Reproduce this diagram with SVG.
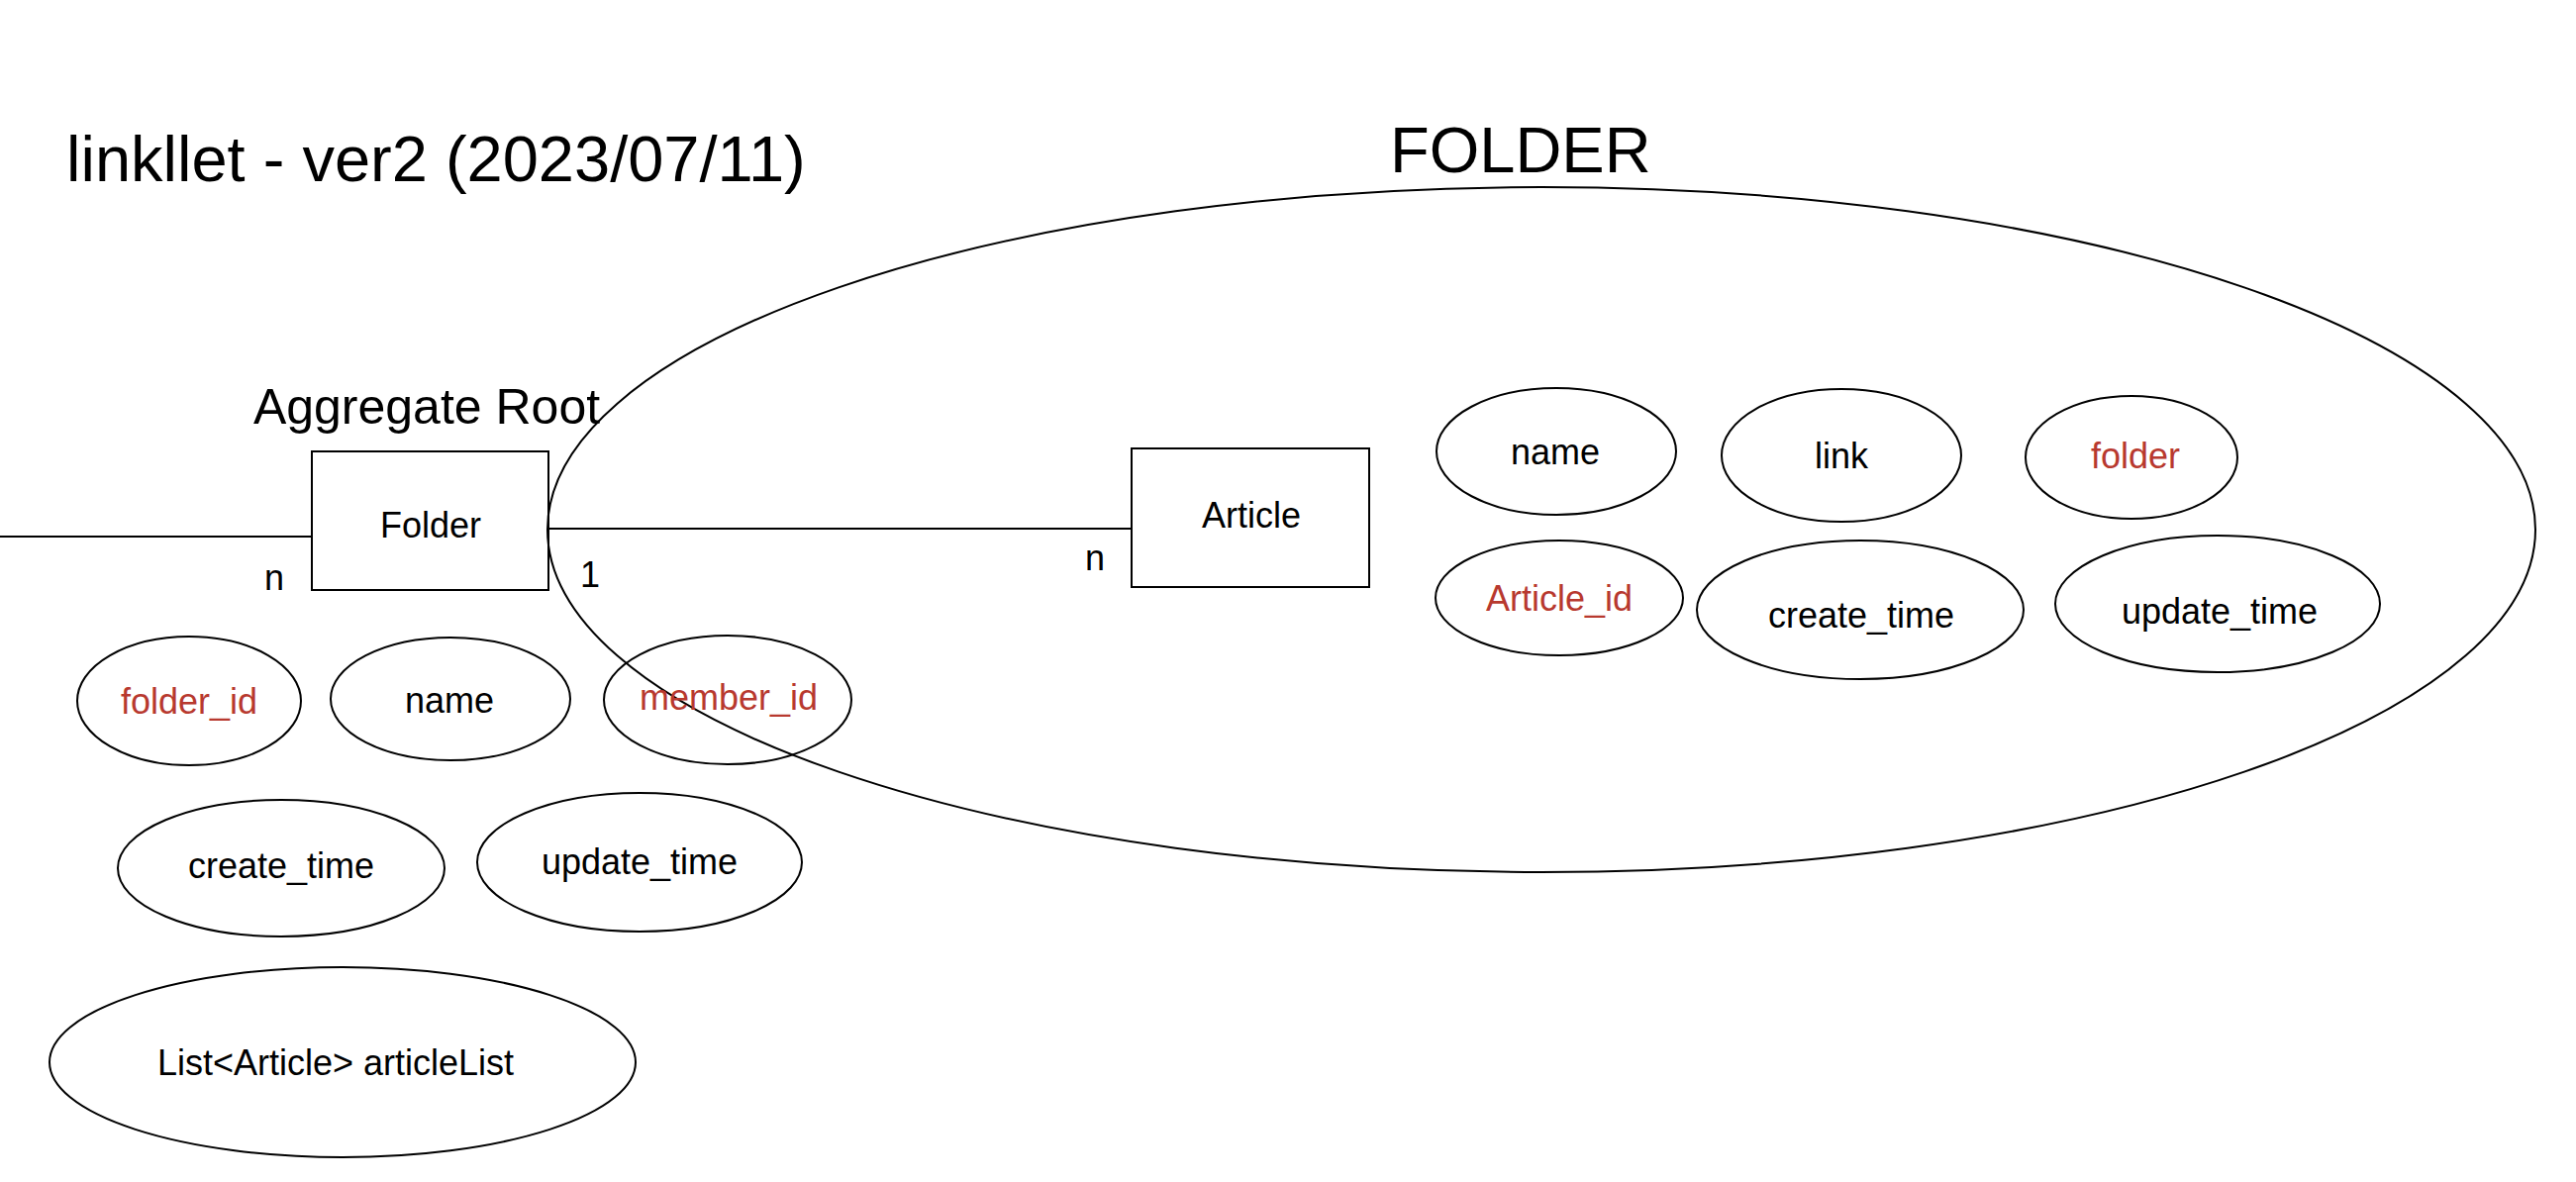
<svg xmlns="http://www.w3.org/2000/svg" width="2602" height="1194" viewBox="0 0 2602 1194">
<style>
  .shape { fill: none; stroke: #000; stroke-width: 2; }
  text { font-family: "Liberation Sans", Arial, Helvetica, sans-serif; fill: #000; }
  .lbl { font-size: 36px; text-anchor: middle; }
  .key { fill: #b8392f; }
  .big { font-size: 65px; }
  .line { stroke: #000; stroke-width: 2; fill: none; }
</style>
<rect width="2602" height="1194" fill="#fff"/>

<text id="title" class="big" x="67" y="183">linkllet - ver2 (2023/07/11)</text>
<text id="folder-label" class="big" x="1404" y="174">FOLDER</text>
<text id="aggregate-label" x="431" y="428" font-size="50" text-anchor="middle">Aggregate Root</text>

<g id="folder-boundary">
  <ellipse class="shape" cx="1557" cy="535" rx="1004" ry="346"/>
</g>

<g id="connectors">
  <line class="line" x1="0" y1="542" x2="315" y2="542"/>
  <line class="line" x1="554" y1="534" x2="1143" y2="534"/>
  <text class="lbl" x="277" y="596">n</text>
  <text class="lbl" x="596" y="593">1</text>
  <text class="lbl" x="1106" y="576">n</text>
</g>

<g id="folder">
  <rect class="shape" x="315" y="456" width="239" height="140"/>
  <text class="lbl" x="435" y="543">Folder</text>
</g>

<g id="article">
  <rect class="shape" x="1143" y="453" width="240" height="140"/>
  <text class="lbl" x="1264" y="533">Article</text>
</g>

<g id="folder-folder_id">
  <ellipse class="shape" cx="191" cy="708" rx="113" ry="65"/>
  <text class="lbl key" x="191" y="721">folder_id</text>
</g>
<g id="folder-name">
  <ellipse class="shape" cx="455" cy="706" rx="121" ry="62"/>
  <text class="lbl" x="454" y="720">name</text>
</g>
<g id="folder-member_id">
  <ellipse class="shape" cx="735" cy="707" rx="125" ry="65"/>
  <text class="lbl key" x="736" y="717">member_id</text>
</g>
<g id="folder-create_time">
  <ellipse class="shape" cx="284" cy="877" rx="165" ry="69"/>
  <text class="lbl" x="284" y="887">create_time</text>
</g>
<g id="folder-update_time">
  <ellipse class="shape" cx="646" cy="871" rx="164" ry="70"/>
  <text class="lbl" x="646" y="883">update_time</text>
</g>
<g id="folder-articleList">
  <ellipse class="shape" cx="346" cy="1073" rx="296" ry="96"/>
  <text class="lbl" x="339" y="1086">List&lt;Article&gt; articleList</text>
</g>

<g id="article-name">
  <ellipse class="shape" cx="1572" cy="456" rx="121" ry="64"/>
  <text class="lbl" x="1571" y="469">name</text>
</g>
<g id="article-link">
  <ellipse class="shape" cx="1860" cy="460" rx="121" ry="67"/>
  <text class="lbl" x="1860" y="473">link</text>
</g>
<g id="article-folder">
  <ellipse class="shape" cx="2153" cy="462" rx="107" ry="62"/>
  <text class="lbl key" x="2157" y="473">folder</text>
</g>
<g id="article-article_id">
  <ellipse class="shape" cx="1575" cy="604" rx="125" ry="58"/>
  <text class="lbl key" x="1575" y="617">Article_id</text>
</g>
<g id="article-create_time">
  <ellipse class="shape" cx="1879" cy="616" rx="165" ry="70"/>
  <text class="lbl" x="1880" y="634">create_time</text>
</g>
<g id="article-update_time">
  <ellipse class="shape" cx="2240" cy="610" rx="164" ry="69"/>
  <text class="lbl" x="2242" y="630">update_time</text>
</g>
</svg>
